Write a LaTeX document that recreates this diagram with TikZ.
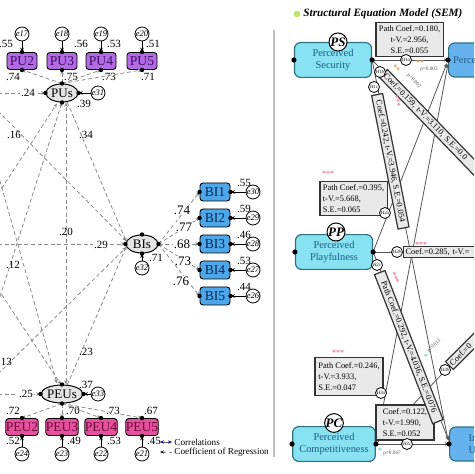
\documentclass[tikz,border=0pt]{standalone}
\usepackage{fontspec}
\setmainfont{Liberation Serif}
\usetikzlibrary{arrows.meta,shapes.geometric,calc}
\definecolor{puF}{HTML}{B36BE3}
\definecolor{puT}{HTML}{3D0F66}
\definecolor{peuF}{HTML}{E5519E}
\definecolor{peuT}{HTML}{6E0A35}
\definecolor{biF}{HTML}{4EA7E9}
\definecolor{biT}{HTML}{0B2855}
\definecolor{cyF}{HTML}{88E2F2}
\definecolor{cyD}{HTML}{2F7283}
\definecolor{cyT}{HTML}{1B5C86}
\definecolor{rbF}{HTML}{66B2EC}
\definecolor{gF}{HTML}{E9E9E9}
\definecolor{starP}{HTML}{E77C9A}
\definecolor{starO}{HTML}{E0A060}
\definecolor{starT}{HTML}{6CCFC0}
\definecolor{ttl}{HTML}{C5E36A}
\definecolor{dashc}{HTML}{8A8A8A}
\definecolor{solidc}{HTML}{555555}
\newcommand\myfs[2]{\fontsize{#1}{#2}\selectfont}
\begin{document}
\begin{tikzpicture}[x=0.5pt,y=-0.5pt,
  box/.style={rectangle, rounded corners=1.5pt, draw=black, line width=0.45pt, minimum width=15pt, minimum height=8.5pt, inner sep=0pt, font=\myfs{6.8}{7}},
  pub/.style={box, fill=puF, text=puT},
  peub/.style={box, fill=peuF, text=peuT},
  bib/.style={box, fill=biF, text=biT, minimum height=9pt},
  lat/.style={ellipse, draw=black, line width=0.5pt, fill=black!10, minimum width=16pt, minimum height=9pt, inner sep=0pt, font=\myfs{6.5}{7}},
  err/.style={circle, draw=black, line width=0.4pt, fill=white, minimum size=7pt, inner sep=0pt, font=\itshape\myfs{4.3}{5}},
  num/.style={inner sep=0pt, font=\myfs{5.5}{6}},
  big/.style={inner sep=0pt, font=\myfs{6.5}{7}},
  dl/.style={draw=dashc, line width=0.4pt, dash pattern=on 2pt off 1.3pt},
  tip/.style={-{Stealth[length=2.2pt,width=1.8pt]}},
  cbox/.style={rectangle, rounded corners=3pt, draw=cyD, line width=0.6pt, fill=cyF, minimum width=38.5pt, minimum height=17pt, align=center, text=cyT, font=\myfs{5.2}{6}},
  rbox/.style={rectangle, rounded corners=3pt, draw=cyD, line width=0.6pt, fill=rbF, minimum width=40pt, minimum height=17pt, text=cyT, font=\myfs{5.2}{6}},
  hc/.style={circle, draw=black, line width=0.5pt, fill=white, minimum size=9pt, inner sep=0pt, font=\bfseries\itshape\myfs{6.5}{7}},
  hs/.style={circle, draw=black, line width=0.4pt, fill=white, minimum size=5.5pt, inner sep=0pt, font=\itshape\myfs{2.4}{3}},
  gbox/.style={rectangle, draw=black!80, line width=0.6pt, fill=gF, inner sep=1.5pt, align=left, font=\myfs{4.2}{5.5}},
  rl/.style={rectangle, draw=black!80, line width=0.6pt, fill=gF, inner sep=1pt, minimum height=5.5pt, font=\myfs{4.2}{5}},
  sl/.style={draw=solidc, line width=0.4pt},
  st/.style={inner sep=0pt, font=\bfseries\myfs{4}{4}},
  pv/.style={inner sep=0pt, text=black!70, font=\myfs{2.6}{3}}
]
\useasboundingbox (0,0) rectangle (474,474);
\clip (0,0) rectangle (474,474);

% ---------------- left panel ----------------
\node[lat] (PUs) at (62,93) {PUs};
\node[lat] (BIs) at (142,244) {BIs};
\node[lat] (PEUs) at (62,394) {PEUs};

\foreach \i/\x/\e/\va/\vb/\ax/\bx in {2/22/17/.55/.74/6/13, 3/62/18/.56/.75/81/71, 4/101/19/.53/.73/114/109, 5/142/20/.51/.71/153/148}{
  \node[pub] (PU\i) at (\x,61) {PU\i};
  \node[err] (e\e) at (\x,34) {e\e};
  \node[num] (ra\e) at (\ax,44) {\va};
  \node[num] (rb\e) at (\bx,77) {\vb};
  \draw[tip, line width=0.4pt] (e\e) -- (PU\i.north);
  \draw[dl, tip] (PUs.north) -- (PU\i.south);
  \fill (PU\i.north) circle[radius=1.1pt];
  \fill (PU\i.south) circle[radius=1.1pt];
}
\foreach \i/\x/\e/\va/\vb/\ax/\bx in {2/22/24/.72/.52/13/13, 3/62/23/.70/.49/73/74, 4/101/22/.73/.53/113/114, 5/142/21/.67/.45/151/154}{
  \node[peub] (PEU\i) at (\x,427) {PEU\i};
  \node[err] (e\e) at (\x,454) {e\e};
  \node[num] (pa\e) at (\ax,411) {\va};
  \node[num] (pb\e) at (\bx,441) {\vb};
  \draw[tip, line width=0.4pt] (e\e) -- (PEU\i.south);
  \draw[dl, tip] (PEUs.south) -- (PEU\i.north);
  \fill (PEU\i.north) circle[radius=1.1pt];
  \fill (PEU\i.south) circle[radius=1.1pt];
}
\foreach \i/\y/\e/\va/\vb/\lx/\ly in {1/192/30/.55/.74/182/210, 2/218/29/.59/.77/184/227, 3/244/28/.46/.68/182/244, 4/270/27/.53/.73/183/261, 5/296/26/.44/.76/181/281}{
  \node[bib] (BI\i) at (215,\y) {BI\i};
  \node[err] (e\e) at (253,\y) {e\e};
  \node[num] (ba\e) at (244,\y-9) {\va};
  \draw[tip, line width=0.4pt] (e\e) -- (BI\i.east);
  \draw[dl, tip] (BIs.east) -- (BI\i.west);
  \node[big, fill=white, inner sep=0.4pt] (bb\e) at (\lx,\ly) {\vb};
  \fill (BI\i.west) circle[radius=1.1pt];
  \fill (BI\i.east) circle[radius=1.1pt];
}

% error terms of latents
\node[err] (e31) at (98,93) {e31};
\node[err] (e32) at (142,268) {e32};
\node[err] (e33) at (98,394) {e33};
\draw[tip, line width=0.4pt] (e31) -- (PUs.east);
\draw[tip, line width=0.4pt] (e32) -- (BIs.south);
\draw[tip, line width=0.4pt] (e33) -- (PEUs.east);
\node[num] (v39) at (84,104) {.39};
\node[num] (v71) at (156,258) {.71};
\node[num] (v37) at (86,385) {.37};

% structural dashed paths (sources outside the crop)
\coordinate (s24) at (-2,93);
\coordinate (s25) at (-2,394);
\coordinate (s16) at (-2,111);
\coordinate (sA) at (-2,194);
\coordinate (sB) at (-2,303);
\coordinate (sC) at (-2,174);
\coordinate (sD) at (-2,289);
\coordinate (s29) at (-2,244);
\coordinate (s13) at (-2,374);
\coordinate (bu1) at ($(PUs.south)+(-5,1)$);
\coordinate (bu2) at ($(PUs.south)+(0,0)$);
\coordinate (bu3) at ($(PUs.south)+(4,0)$);
\coordinate (bp1) at ($(PEUs.north)+(-5,-1)$);
\coordinate (bp2) at ($(PEUs.north)+(-1,0)$);
\coordinate (bp3) at ($(PEUs.north)+(4,0)$);
\draw[dl,tip] (s24) -- (PUs.west);
\draw[dl,tip] (s25) -- (PEUs.west);
\draw[dl,tip] (sA) -- (bu1);
\draw[dl,tip] (sB) -- (bu2);
\draw[dl,{Stealth[length=2.2pt,width=1.8pt]}-{Stealth[length=2.2pt,width=1.8pt]}] (bp3) -- (bu3);
\draw[dl,tip] (sC) -- (bp1);
\draw[dl,tip] (sD) -- (bp2);
\draw[dl,tip] (s16) -- ($(BIs.west)+(1,-3)$);
\draw[dl,tip] (PUs.-60) -- ($(BIs.west)+(1,-2)$);
\draw[dl,tip] (s29) -- (BIs.west);
\draw[dl,tip] (s13) -- ($(BIs.west)+(1,3)$);
\draw[dl,tip] (PEUs.60) -- ($(BIs.west)+(1,2)$);
\foreach \n in {PUs,BIs,PEUs}{
  \fill (\n.north) circle[radius=1.1pt];
  \fill (\n.south) circle[radius=1.1pt];
  \fill (\n.east) circle[radius=1.1pt];
  \fill (\n.west) circle[radius=1.1pt];
}
\node[num, fill=white, inner sep=0.5pt] (v24) at (28,93) {.24};
\node[num, fill=white, inner sep=0.5pt] (v25) at (26,394) {.25};
\node[num] (v16) at (14,135) {.16};
\node[num] (v34) at (86,135) {.34};
\node[num] (v20) at (66,232) {.20};
\node[num, fill=white, inner sep=0.5pt] (v29) at (101,245) {.29};
\node[num] (v12) at (13,265) {.12};
\node[num] (v13) at (5,362) {.13};
\node[num] (v23) at (86,352) {.23};

% legend
\draw[black!60, line width=0.4pt, {Stealth[length=2pt,width=1.6pt,blue!70!black]}-{Stealth[length=2pt,width=1.6pt,blue!70!black]}] (160,442) -- (172,442);
\draw[dl, {Stealth[length=2pt,width=1.6pt,black]}-] (160,452) -- (172,452);
\node[anchor=west, inner sep=0pt, font=\myfs{4.6}{5}] (lg1) at (174,442) {Correlations};
\node[anchor=west, inner sep=0pt, font=\myfs{4.6}{5}] (lg2) at (174,452) {Coefficient of Regression};

% separator
\draw[black!25, line width=0.6pt] (274,30) -- (274,457);

% ---------------- right panel ----------------
\fill[ttl] (297,14) circle[radius=1.7pt];
\node[anchor=west, inner sep=0pt, font=\bfseries\itshape\myfs{5.6}{6}] (title) at (303,14) {Structural Equation Model (SEM)};

\node[cbox] (PS) at (333,60) {Perceived\\Security};
\node[cbox] (PP) at (334,252) {Perceived\\Playfulness};
\node[cbox] (PC) at (334,444) {Perceived\\Competitiveness};
\node[rbox, anchor=west, text width=60pt, align=left, inner xsep=2.3pt] (PUR) at (448,60) {Perceived Usefulness};
\node[rbox, anchor=west, text width=60pt, align=left, inner xsep=9.5pt] (BIR) at (449,444) {Intention\\Use};
\coordinate (MID) at (557,252);

% paths
\draw[sl, tip] (PS.east) -- (PUR.west);
\draw[sl, tip] (PP.east) -- ($(PUR.west)+(-1,3)$);
\draw[sl, tip] (PC.east) -- ($(PUR.west)+(0,4)$);
\draw[sl] (PS.east) -- (MID);
\draw[sl] (PP.east) -- (MID);
\draw[sl] (PC.east) -- (MID);
\draw[sl, tip] (PS.east) -- ($(BIR.west)+(-1,-4)$);
\draw[sl, tip] (PP.east) -- ($(BIR.west)+(0,-3)$);
\draw[sl, tip] (PC.east) -- (BIR.west);

% label boxes
\node[gbox, align=center, minimum width=32.5pt, minimum height=15.5pt] (b1) at (409.5,39.5) {Path Coef.=0.180,\\t-V.=2.956,\\S.E.=0.055};
\node[gbox, minimum width=33.5pt, minimum height=16.5pt] (b2) at (353.5,198.5) {Path Coef.=0.395,\\t-V.=5.668,\\S.E.=0.065};
\node[gbox, minimum width=34pt, minimum height=19pt] (b3) at (349,376.5) {Path Coef.=0.246,\\t-V.=3.933,\\S.E.=0.047};
\node[gbox, minimum width=29pt, minimum height=17.5pt] (b4) at (405,422.5) {Coef.=0.122,\\t-V.=1.990,\\S.E.=0.052};

\node[rl, rotate=-46, anchor=west, text width=70pt, align=left] (r1) at (383,73) {Coef.=0.159, t-V.=3.110, S.E.=0.0};
\node[rl, rotate=-78.8, anchor=west, minimum width=68pt] (r2) at (377,94) {Coef.=0.242, t-V.=3.946, S.E.=0.054};
\node[rl, rotate=-68.7, anchor=west, minimum width=80pt] (r3) at (379.5,272) {Path Coef.=0.292, t-V.=4.036, S.E.=0.076};
\node[rl, rotate=45, anchor=west, text width=30pt, align=left] (r4) at (449,366) {Coef.=0};
\node[rl, anchor=west, text width=40pt, align=left] (r5) at (403,252) {Coef.=0.285, t-V.=};

% hypothesis circles
\node[hs] (h1a) at (406,60) {H1a};
\node[hs] (h1b) at (380,72) {H1b};
\node[hs] (h1c) at (374,87) {H1c};
\node[hs] (h2a) at (385,213) {H2a};
\node[hs] (h2b) at (397,252) {H2b};
\node[hs] (h2c) at (377,265) {H2c};
\node[hs] (h3a) at (381,393) {H3a};
\node[hs] (h3b) at (445,370) {H3b};
\node[hs] (h3c) at (407,444) {H3c};

% significance marks
\node[st, text=starO] (k1) at (420,63) {**};
\node[pv] (p1) at (429,69) {p=0.003};
\node[st, text=starO, rotate=-46] (k2) at (396,69) {**};
\node[pv, rotate=-46] (p2) at (414,81) {p=0.002};
\node[st, text=starP, rotate=-78] (k3) at (397,101) {***};
\node[st, text=starP] (k4) at (328,174) {***};
\node[st, text=starP] (k5) at (421,245) {***};
\node[st, text=starP, rotate=-68] (k6) at (395,278) {***};
\node[st, text=starP] (k7) at (338,353) {***};
\node[st, text=starT] (k8) at (426,357) {*};
\node[pv, rotate=45] (p8) at (434,346) {p=0.011};
\node[st, text=starT] (k9) at (380,451) {*};
\node[pv] (p9) at (392,453) {p=0.047};

% PS / PP / PC circles
\node[hc] (cPS) at (338,42) {PS};
\node[hc] (cPP) at (336,232) {PP};
\node[hc] (cPC) at (334,423) {PC};

\foreach \n in {PS,PP,PC}{
  \fill (\n.east) circle[radius=1.3pt];
  \fill (\n.west) circle[radius=1.3pt];
}
\fill (PUR.west) circle[radius=1.3pt];
\fill (BIR.west) circle[radius=1.3pt];
\end{tikzpicture}
\end{document}
